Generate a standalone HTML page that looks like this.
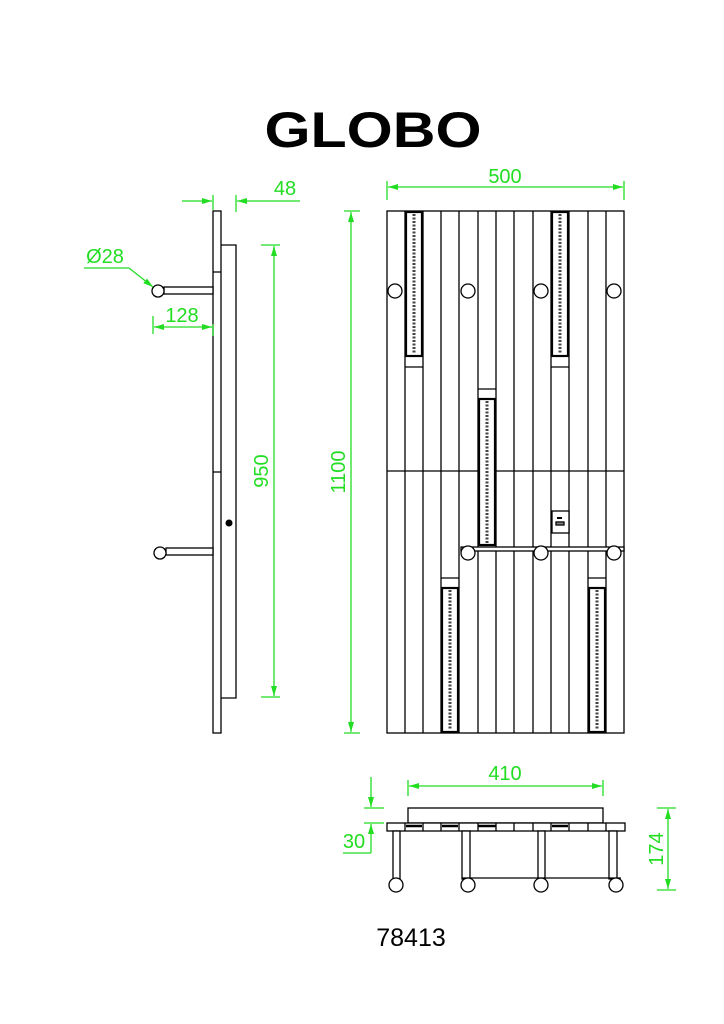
<!DOCTYPE html>
<html><head><meta charset="utf-8"><style>
html,body{margin:0;padding:0;background:#fff;}
svg{display:block;}
text{font-family:"Liberation Sans",sans-serif;}
</style></head><body>
<svg width="724" height="1024" viewBox="0 0 724 1024" xmlns="http://www.w3.org/2000/svg">
<defs>
<marker id="a" viewBox="0 0 10 6" refX="10" refY="3" markerWidth="10" markerHeight="6" orient="auto-start-reverse" markerUnits="userSpaceOnUse"><path d="M0,0L10,3L0,6z" fill="#22dd22"/></marker>
</defs>
<text x="373" y="147" font-size="50" font-weight="bold" text-anchor="middle" textLength="217" lengthAdjust="spacingAndGlyphs" fill="#000">GLOBO</text>

<g stroke="#000" stroke-width="1.3" fill="none">
<rect x="387" y="211" width="237" height="522"/>
<path d="M405 211V733M423 211V733M441 211V733M459 211V733M478 211V733M496 211V733M514 211V733M533 211V733M551 211V733M569 211V733M588 211V733M606 211V733"/>
<path d="M387 471H478M496 471H624"/>
<path d="M405 367H423M551 367H569M478 389H496M441 578H459M588 578H606"/>
</g>
<g stroke="#000" stroke-width="2.2" fill="#fff">
<rect x="406" y="212" width="16" height="144"/>
<rect x="552" y="212" width="16" height="144"/>
<rect x="479" y="399" width="16" height="146"/>
<rect x="442" y="588" width="16" height="144"/>
<rect x="589" y="588" width="16" height="144"/>
</g>
<g stroke="#444" stroke-width="3" stroke-dasharray="2,1.5">
<path d="M414 214V354M560 214V354M487 401V543M450 590V730M597 590V730"/>
</g>
<g stroke="#000" stroke-width="1.3" fill="#fff">
<circle cx="395" cy="291" r="7"/><circle cx="468" cy="291" r="7"/><circle cx="541" cy="291" r="7"/><circle cx="614" cy="291" r="7"/>
<rect x="461" y="547" width="163" height="4"/>
<circle cx="468" cy="553" r="7"/><circle cx="541" cy="553" r="7"/><circle cx="614" cy="553" r="7"/>
<rect x="552" y="511" width="17" height="22"/>
<rect x="556" y="522" width="8" height="3" fill="#888"/>
</g>
<rect x="557" y="517" width="5" height="2" fill="#000"/>

<g stroke="#000" stroke-width="1.3" fill="#fff">
<rect x="213" y="211" width="8" height="522"/>
<path d="M221 245H236V698H221" fill="none"/>
<path d="M213 272H221M213 472H221" fill="none"/>
<rect x="164" y="287" width="49" height="7"/>
<circle cx="158" cy="291" r="6"/>
<rect x="166" y="548" width="47" height="7"/>
<circle cx="160" cy="553" r="6"/>
</g>
<circle cx="229" cy="523" r="3.5" fill="#000"/>

<g stroke="#000" stroke-width="1.3" fill="#fff">
<rect x="408" y="808" width="195" height="15"/>
<rect x="387" y="823" width="238" height="8"/>
<path d="M405 823V831M423 823V831M441 823V831M459 823V831M478 823V831M496 823V831M514 823V831M533 823V831M551 823V831M569 823V831M588 823V831M606 823V831" fill="none"/>
<rect x="393" y="831" width="7" height="48"/>
<rect x="462" y="831" width="8" height="48"/>
<rect x="538" y="831" width="7" height="48"/>
<rect x="609" y="831" width="8" height="48"/>
<path d="M462 878H621" fill="none"/>
<circle cx="396" cy="885" r="7"/><circle cx="468" cy="885" r="7"/><circle cx="541" cy="885" r="7"/><circle cx="616" cy="885" r="7"/>
</g>
<g stroke="#000" stroke-width="2.5"><path d="M406 826H422M442 826H458M478 826H496M552 826H568"/></g>

<g stroke="#22dd22" stroke-width="1.3" fill="none">
<path d="M387 181V200M624 181V200"/>
<path d="M388 187H623" marker-start="url(#a)" marker-end="url(#a)"/>
<path d="M344 211H360M344 733H360"/>
<path d="M351 212V732" marker-start="url(#a)" marker-end="url(#a)"/>
<path d="M261 245H280M261 697H280"/>
<path d="M274 246V696" marker-start="url(#a)" marker-end="url(#a)"/>
<path d="M213 195V210M236 195V212"/>
<path d="M182 201H212" marker-end="url(#a)"/>
<path d="M300 201H237" marker-end="url(#a)"/>
<path d="M84 268H129L153 287" marker-end="url(#a)"/>
<path d="M153 316V334M213 324V336"/>
<path d="M154 327H212" marker-start="url(#a)" marker-end="url(#a)"/>
<path d="M408 780V796M603 780V796"/>
<path d="M409 786H602" marker-start="url(#a)" marker-end="url(#a)"/>
<path d="M364 808H384M364 823H384"/>
<path d="M371 777V807" marker-end="url(#a)"/>
<path d="M371 853V824" marker-end="url(#a)"/>
<path d="M343 853H371"/>
<path d="M657 808H676M657 890H676"/>
<path d="M668 809V889" marker-start="url(#a)" marker-end="url(#a)"/>
</g>
<g fill="#22dd22" font-size="20">
<text x="505" y="183" text-anchor="middle">500</text>
<text x="285" y="195" text-anchor="middle">48</text>
<text x="105" y="263" text-anchor="middle">Ø28</text>
<text x="182" y="322" text-anchor="middle">128</text>
<text x="505" y="780" text-anchor="middle">410</text>
<text x="354" y="848" text-anchor="middle">30</text>
<text transform="translate(268,471) rotate(-90)" text-anchor="middle">950</text>
<text transform="translate(345,472) rotate(-90)" text-anchor="middle">1100</text>
<text transform="translate(663,849) rotate(-90)" text-anchor="middle">174</text>
</g>
<text x="411" y="946" font-size="25" text-anchor="middle" fill="#000">78413</text>
</svg>
</body></html>
